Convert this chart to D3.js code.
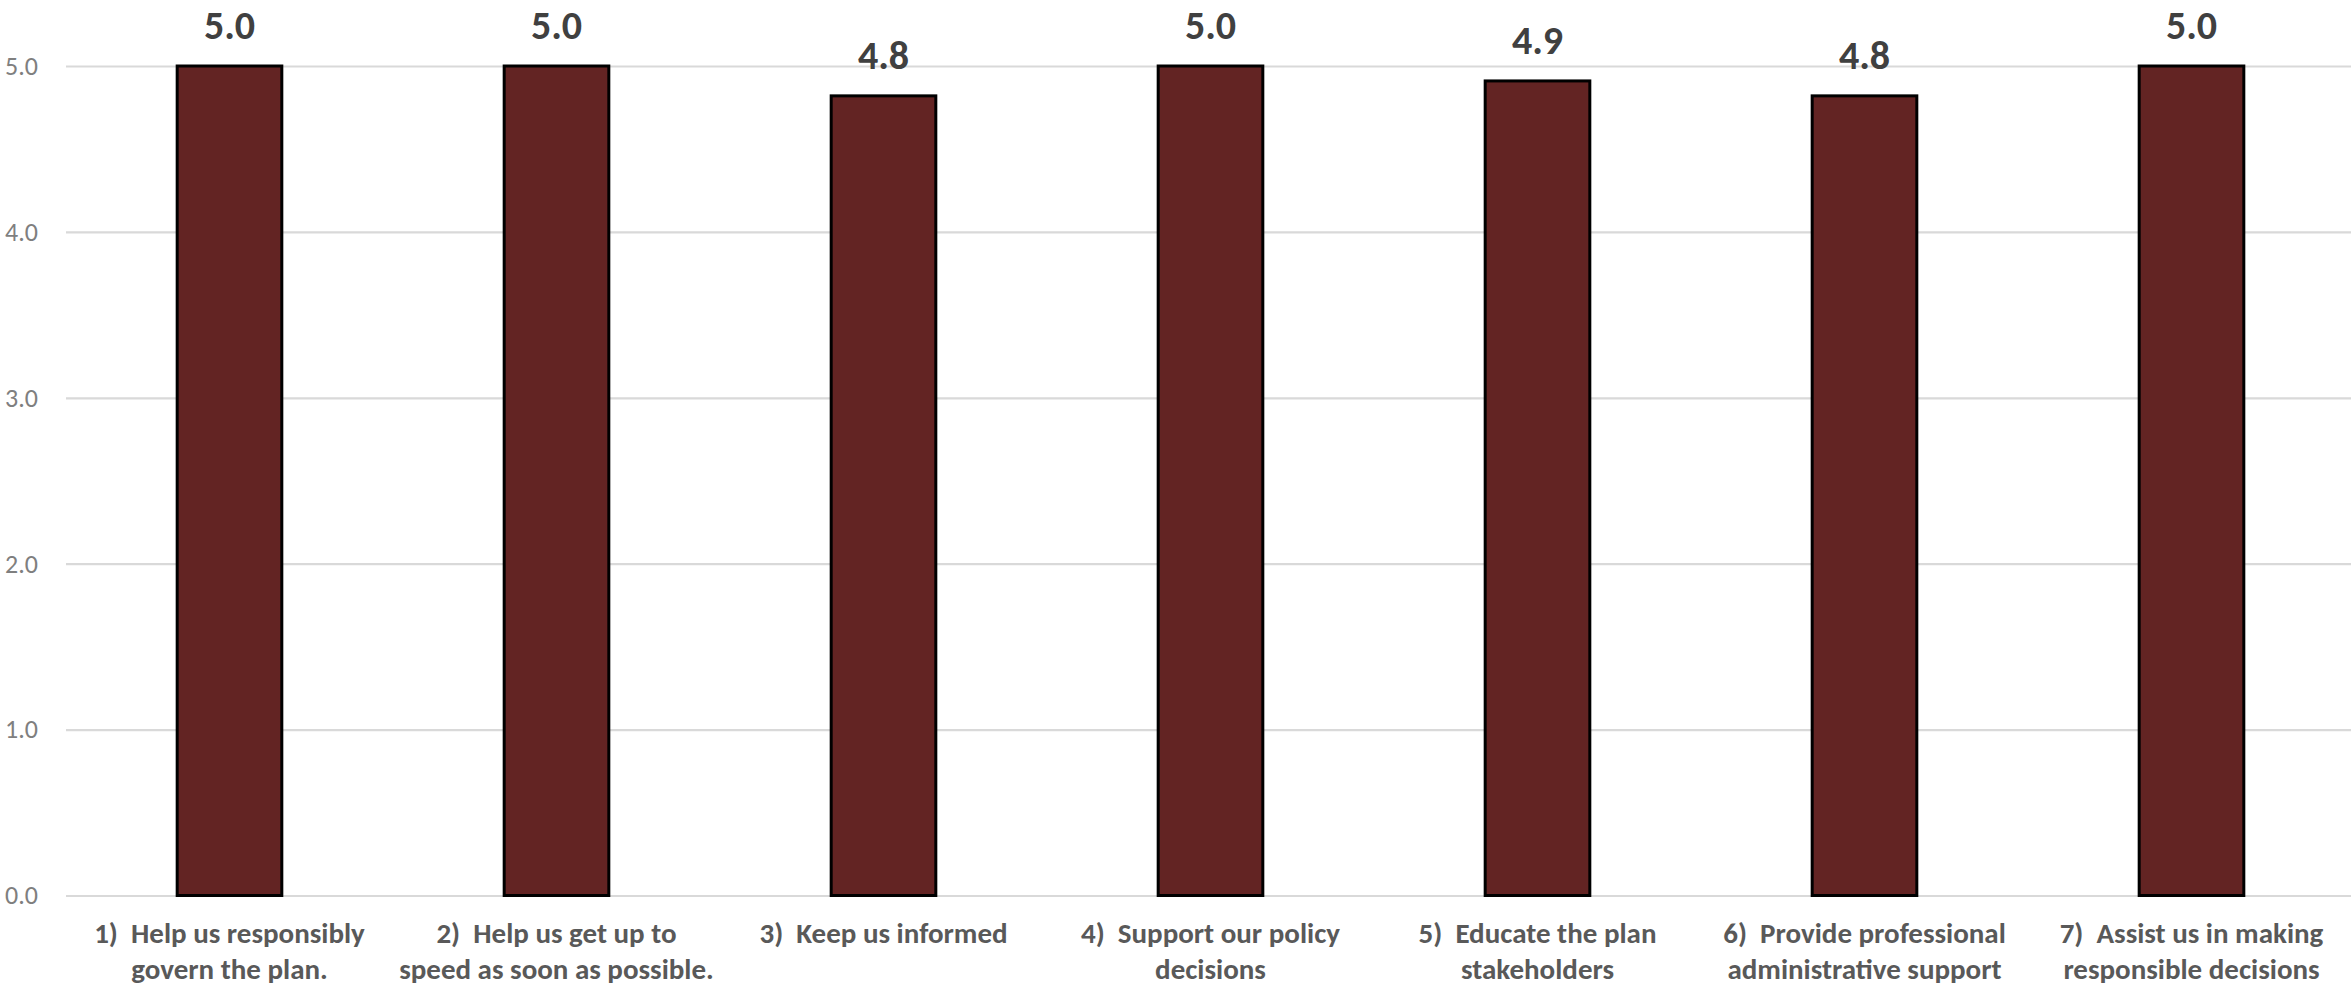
<!DOCTYPE html>
<html>
<head>
<meta charset="utf-8">
<script src="https://cdn.jsdelivr.net/npm/d3@7"></script>
<style>
  body { margin: 0; background: #fff; }
  svg { display: block; }
  text { font-family: Carlito, Calibri, Lato, "Open Sans", sans-serif; }
</style>
</head>
<body>
<div id="chart"></div>
<script>
// chart data
var categories = ["q1", "q2", "q3", "q4", "q5", "q6", "q7"];
var categoryLines = [
    ["1)  Help us responsibly", "govern the plan."],
    ["2)  Help us get up to", "speed as soon as possible."],
    ["3)  Keep us informed"],
    ["4)  Support our policy", "decisions"],
    ["5)  Educate the plan", "stakeholders"],
    ["6)  Provide professional", "administrative support"],
    ["7)  Assist us in making", "responsible decisions"]
];
var values = [5.0, 5.0, 4.82, 5.0, 4.91, 4.82, 5.0];
var yTicks = [0, 1, 2, 3, 4, 5];

var svgWidth = 2351;
var svgHeight = 986;

var margin = {
    top: 66,
    right: 0,
    bottom: 90.5,
    left: 66
};

var width = svgWidth - margin.left - margin.right;
var height = svgHeight - margin.top - margin.bottom;

var svg = d3.select("#chart")
    .append("svg")
    .attr("width", svgWidth)
    .attr("height", svgHeight);

var chartGroup = svg.append("g")
    .attr("transform", `translate(${margin.left}, ${margin.top})`);

// scales
var xBandScale = d3.scaleBand()
    .domain(categories)
    .range([0, 327 * 7])
    .paddingInner(0.68)
    .paddingOuter(0.34);

var yLinearScale = d3.scaleLinear()
    .domain([0, 5])
    .range([height, 0]);

// gridlines + y tick labels
var leftAxis = d3.axisLeft(yLinearScale)
    .tickValues(yTicks)
    .tickFormat(d3.format(".1f"))
    .tickSize(-width)
    .tickPadding(28);

var yAxis = chartGroup.append("g")
    .call(leftAxis);

yAxis.select(".domain").remove();
yAxis.selectAll(".tick line")
    .attr("stroke", "#d9d9d9")
    .attr("stroke-width", 2.2);
yAxis.selectAll(".tick text")
    .attr("fill", "#7f7f7f")
    .attr("font-size", "26px")
    .style("font-family", "Carlito, Calibri, Lato, 'Open Sans', sans-serif");

// bars
chartGroup.selectAll("rect.bar")
    .data(values)
    .enter()
    .append("rect")
    .attr("class", "bar")
    .attr("x", (d, i) => xBandScale(categories[i]))
    .attr("y", d => yLinearScale(d))
    .attr("width", xBandScale.bandwidth())
    .attr("height", d => height - yLinearScale(d))
    .attr("fill", "#632423")
    .attr("stroke", "#000")
    .attr("stroke-width", 3);

// value labels
chartGroup.selectAll("text.value")
    .data(values)
    .enter()
    .append("text")
    .attr("class", "value")
    .attr("x", (d, i) => xBandScale(categories[i]) + xBandScale.bandwidth() / 2)
    .attr("y", d => yLinearScale(d) - 27)
    .attr("text-anchor", "middle")
    .attr("font-size", "40px")
    .attr("font-weight", "bold")
    .attr("fill", "#404040")
    .text(d => d3.format(".1f")(d));

// category labels
var catLabels = chartGroup.selectAll("text.cat")
    .data(categoryLines)
    .enter()
    .append("text")
    .attr("class", "cat")
    .attr("x", (d, i) => xBandScale(categories[i]) + xBandScale.bandwidth() / 2)
    .attr("y", height + 47.5)
    .attr("text-anchor", "middle")
    .attr("font-size", "29px")
    .attr("font-weight", "bold")
    .attr("fill", "#595959")
    .style("white-space", "pre");

catLabels.each(function(lines, i) {
    var el = d3.select(this);
    lines.forEach(function(line, j) {
        el.append("tspan")
            .attr("x", xBandScale(categories[i]) + xBandScale.bandwidth() / 2)
            .attr("dy", j === 0 ? 0 : 36)
            .text(line);
    });
});
</script>
</body>
</html>
